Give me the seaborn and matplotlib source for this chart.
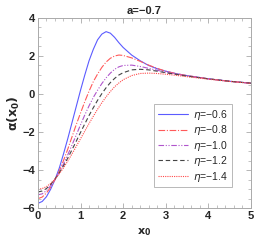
import numpy as np
import pandas as pd
import seaborn as sns
import matplotlib
matplotlib.use("Agg")
import matplotlib.pyplot as plt
from matplotlib.ticker import MultipleLocator

# Values
x0 = [0, 0.1, 0.2, 0.3, 0.4, 0.5, 0.6, 0.7, 0.8, 0.9, 1.0, 1.1, 1.2, 1.3, 1.4, 1.5,
      1.6, 1.7, 1.8, 1.9, 2.0, 2.2, 2.4, 2.6, 2.8, 3.0, 3.25, 3.5, 4.0, 4.5, 5.0]

alpha_06 = [-5.75, -5.65, -5.4, -5.0, -4.5, -3.9, -3.15, -2.35, -1.5, -0.65, 0.2, 1.0,
            1.75, 2.35, 2.85, 3.15, 3.28, 3.2, 2.98, 2.7, 2.45, 2.05, 1.75, 1.5, 1.33,
            1.2, 1.07, 0.97, 0.8, 0.67, 0.57]
alpha_08 = [-5.5, -5.42, -5.2, -4.9, -4.5, -4.05, -3.5, -2.9, -2.25, -1.6, -1.0, -0.4,
            0.15, 0.65, 1.05, 1.4, 1.68, 1.88, 2.0, 2.05, 2.03, 1.9, 1.72, 1.52, 1.35,
            1.2, 1.07, 0.97, 0.8, 0.67, 0.57]
alpha_10 = [-5.3, -5.25, -5.08, -4.82, -4.5, -4.12, -3.68, -3.2, -2.68, -2.15, -1.62,
            -1.1, -0.62, -0.18, 0.2, 0.55, 0.85, 1.1, 1.3, 1.43, 1.5, 1.52, 1.45, 1.35,
            1.25, 1.15, 1.04, 0.95, 0.8, 0.67, 0.57]
alpha_12 = [-5.15, -5.1, -4.97, -4.75, -4.48, -4.15, -3.78, -3.37, -2.93, -2.48, -2.02,
            -1.57, -1.13, -0.72, -0.33, 0.02, 0.33, 0.6, 0.82, 1.0, 1.12, 1.27, 1.3,
            1.27, 1.2, 1.12, 1.03, 0.94, 0.8, 0.67, 0.57]
alpha_14 = [-5.0, -4.97, -4.87, -4.7, -4.47, -4.2, -3.88, -3.53, -3.15, -2.75, -2.35,
            -1.95, -1.55, -1.17, -0.8, -0.46, -0.15, 0.13, 0.38, 0.58, 0.75, 0.97, 1.08,
            1.1, 1.08, 1.04, 0.98, 0.91, 0.78, 0.66, 0.56]

labels = ["$\\eta$=\u22120.6", "$\\eta$=\u22120.8", "$\\eta$=\u22121.0",
          "$\\eta$=\u22121.2", "$\\eta$=\u22121.4"]

sns.set_style("ticks")
plt.rcParams['font.family'] = ['Liberation Sans', 'DejaVu Sans']
plt.rcParams['mathtext.fontset'] = 'dejavusans'

fig = plt.figure(figsize=(2.73, 2.46), dpi=100)
ax = fig.add_axes([0.139, 0.154, 0.780, 0.773])

series = [alpha_06, alpha_08, alpha_10, alpha_12, alpha_14]
colors = ["#5b5bff", "#ff5a5a", "#b055cc", "#444444", "#ff4a4a"]
styles = ["-", (0, (6, 1.5, 1, 1.5)), (0, (5, 1.5, 1, 1.5, 1, 1.5)), (0, (4, 2.5)), (0, (1, 1))]

for ys, c, ls, lab in zip(series, colors, styles, labels):
    df = pd.DataFrame({"x0": x0, "alpha": ys})
    sns.lineplot(data=df, x="x0", y="alpha", ax=ax, color=c, linestyle=ls,
                 linewidth=0.8, label=lab)

ax.set_xlim(0, 5)
ax.set_ylim(-6, 4)
ax.xaxis.set_major_locator(MultipleLocator(1))
ax.xaxis.set_minor_locator(MultipleLocator(0.2))
ax.yaxis.set_major_locator(MultipleLocator(2))
ax.yaxis.set_minor_locator(MultipleLocator(0.5))
ax.tick_params(which="both", direction="in", top=True, right=True, color="#aaaaaa",
               labelsize=8, pad=2)
ax.tick_params(which="major", length=3.5, width=0.6)
ax.tick_params(which="minor", length=2, width=0.5)
for lbl in ax.get_xticklabels() + ax.get_yticklabels():
    lbl.set_fontweight("bold")
for sp in ax.spines.values():
    sp.set_color("#aaaaaa")
    sp.set_linewidth(0.7)

ax.set_xlabel("$\\mathbf{x_0}$", fontsize=8, labelpad=4)
ax.set_ylabel("$\\mathbf{\\alpha(x_0)}$", fontsize=9, labelpad=0)
ax.set_title("a=\u22120.7", fontsize=8, fontweight="bold", pad=3)

leg = ax.legend(loc="lower right", bbox_to_anchor=(0.91, 0.11), fontsize=7.5,
                frameon=True, fancybox=False, handlelength=2.9, handletextpad=0.5,
                borderpad=0.35, labelspacing=0.14, borderaxespad=0)
leg.get_frame().set_edgecolor("#999999")
leg.get_frame().set_linewidth(0.6)

fig.savefig("out.png", dpi=100)
